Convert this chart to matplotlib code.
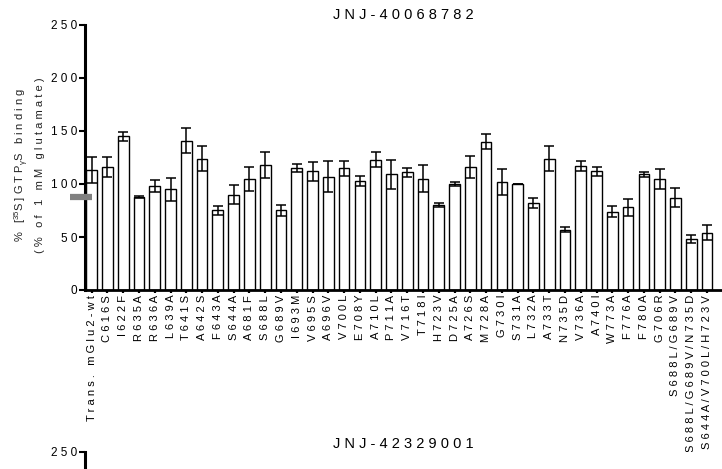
import matplotlib.pyplot as plt
import numpy as np

plt.rcParams['font.family'] = ['Liberation Sans', 'DejaVu Sans']
plt.rcParams['mathtext.fontset'] = 'custom'
plt.rcParams['mathtext.rm'] = 'Liberation Sans'
plt.rcParams['mathtext.it'] = 'Liberation Sans:italic'

mutants = ['Trans. mGlu2-wt', 'C616S', 'I622F', 'R635A', 'R636A', 'L639A', 'T641S',
           'A642S', 'F643A', 'S644A', 'A681F', 'S688L', 'G689V', 'I693M', 'V695S',
           'A696V', 'V700L', 'E708Y', 'A710L', 'P711A', 'V716T', 'T718I', 'H723V',
           'D725A', 'A726S', 'M728A', 'G730I', 'S731A', 'L732A', 'A733T', 'N735D',
           'V736A', 'A740I', 'W773A', 'F776A', 'F780A', 'G706R', 'S688L/G689V',
           'S688L/G689V/N735D', 'S644A/V700L/H723V']
binding = [113, 116, 145, 88, 98, 95, 141, 124, 75, 90, 105, 118, 75, 115, 112,
           107, 115, 103, 123, 109, 111, 105, 80, 100, 116, 140, 102, 100, 82, 124,
           57, 117, 112, 74, 78, 109, 105, 87, 48, 54]
sem = [12, 9, 4, 1, 5.5, 11, 12, 12, 4, 9, 11.5, 12, 5, 4, 9, 15, 7, 5, 7, 14,
       4, 12.5, 2, 1.5, 10, 7, 12, 0, 4.5, 12, 2, 4.5, 4.5, 5, 8, 2.5, 9.5, 9, 3.5, 7]
ref_level = 88
yticks = [0, 50, 100, 150, 200, 250]


def spaced(s):
    return ' '.join(s)


def style_yaxis(ax, ticks):
    ax.set_ylim(0, 250)
    ax.set_yticks(ticks)
    ax.set_yticklabels([spaced(str(t)) for t in ticks], fontsize=8.5)
    ax.spines['top'].set_visible(False)
    ax.spines['right'].set_visible(False)
    ax.spines['left'].set_linewidth(2.2)
    ax.spines['bottom'].set_linewidth(2)
    ax.tick_params(axis='y', direction='out', length=4, width=1.5, pad=1.5)


fig = plt.figure(figsize=(7.22, 4.69), dpi=100)

ax = fig.add_axes([85 / 722, 179 / 469, 637 / 722, 265 / 469])
x = np.arange(len(mutants))
ax.bar(x, binding, width=0.68, color='white', edgecolor='black', linewidth=1.0,
       yerr=sem, capsize=3.5, error_kw=dict(elinewidth=1.1, capthick=1.1, ecolor='black'),
       zorder=2)
# grey reference mark on the y axis
ax.plot([-0.0235, 0.011], [ref_level, ref_level], transform=ax.get_yaxis_transform(),
        color='#808080', lw=4.5, solid_capstyle='butt', clip_on=False, zorder=5)
ax.set_xlim(-0.42, 39.95)
ax.set_xticks(x)
ax.set_xticklabels([spaced(m) for m in mutants], rotation=90, fontsize=8)
ax.tick_params(axis='x', direction='out', length=2.5, width=1.6, pad=1)
style_yaxis(ax, yticks)
ax.set_title(spaced('JNJ-40068782'), fontsize=10.5, pad=4.5)
ylab = ('%   [$^{35}$S ] G T P$_{\\mathrm{\\gamma}}$S   b i n d i n g\n'
        + spaced('(% of 1 mM glutamate)'))
ax.set_ylabel(ylab, fontsize=8, linespacing=1.5, va='center', color='#222222')
ax.yaxis.set_label_coords(-0.0887, 0.47)

# second panel, only its top edge is inside the picture
ax2 = fig.add_axes([85 / 722, (17 - 265) / 469, 637 / 722, 265 / 469])
style_yaxis(ax2, [250])
ax2.spines['bottom'].set_visible(False)
ax2.set_xticks([])
ax2.set_title(spaced('JNJ-42329001'), fontsize=10.5, pad=3)

fig.savefig('out.png', dpi=100)
